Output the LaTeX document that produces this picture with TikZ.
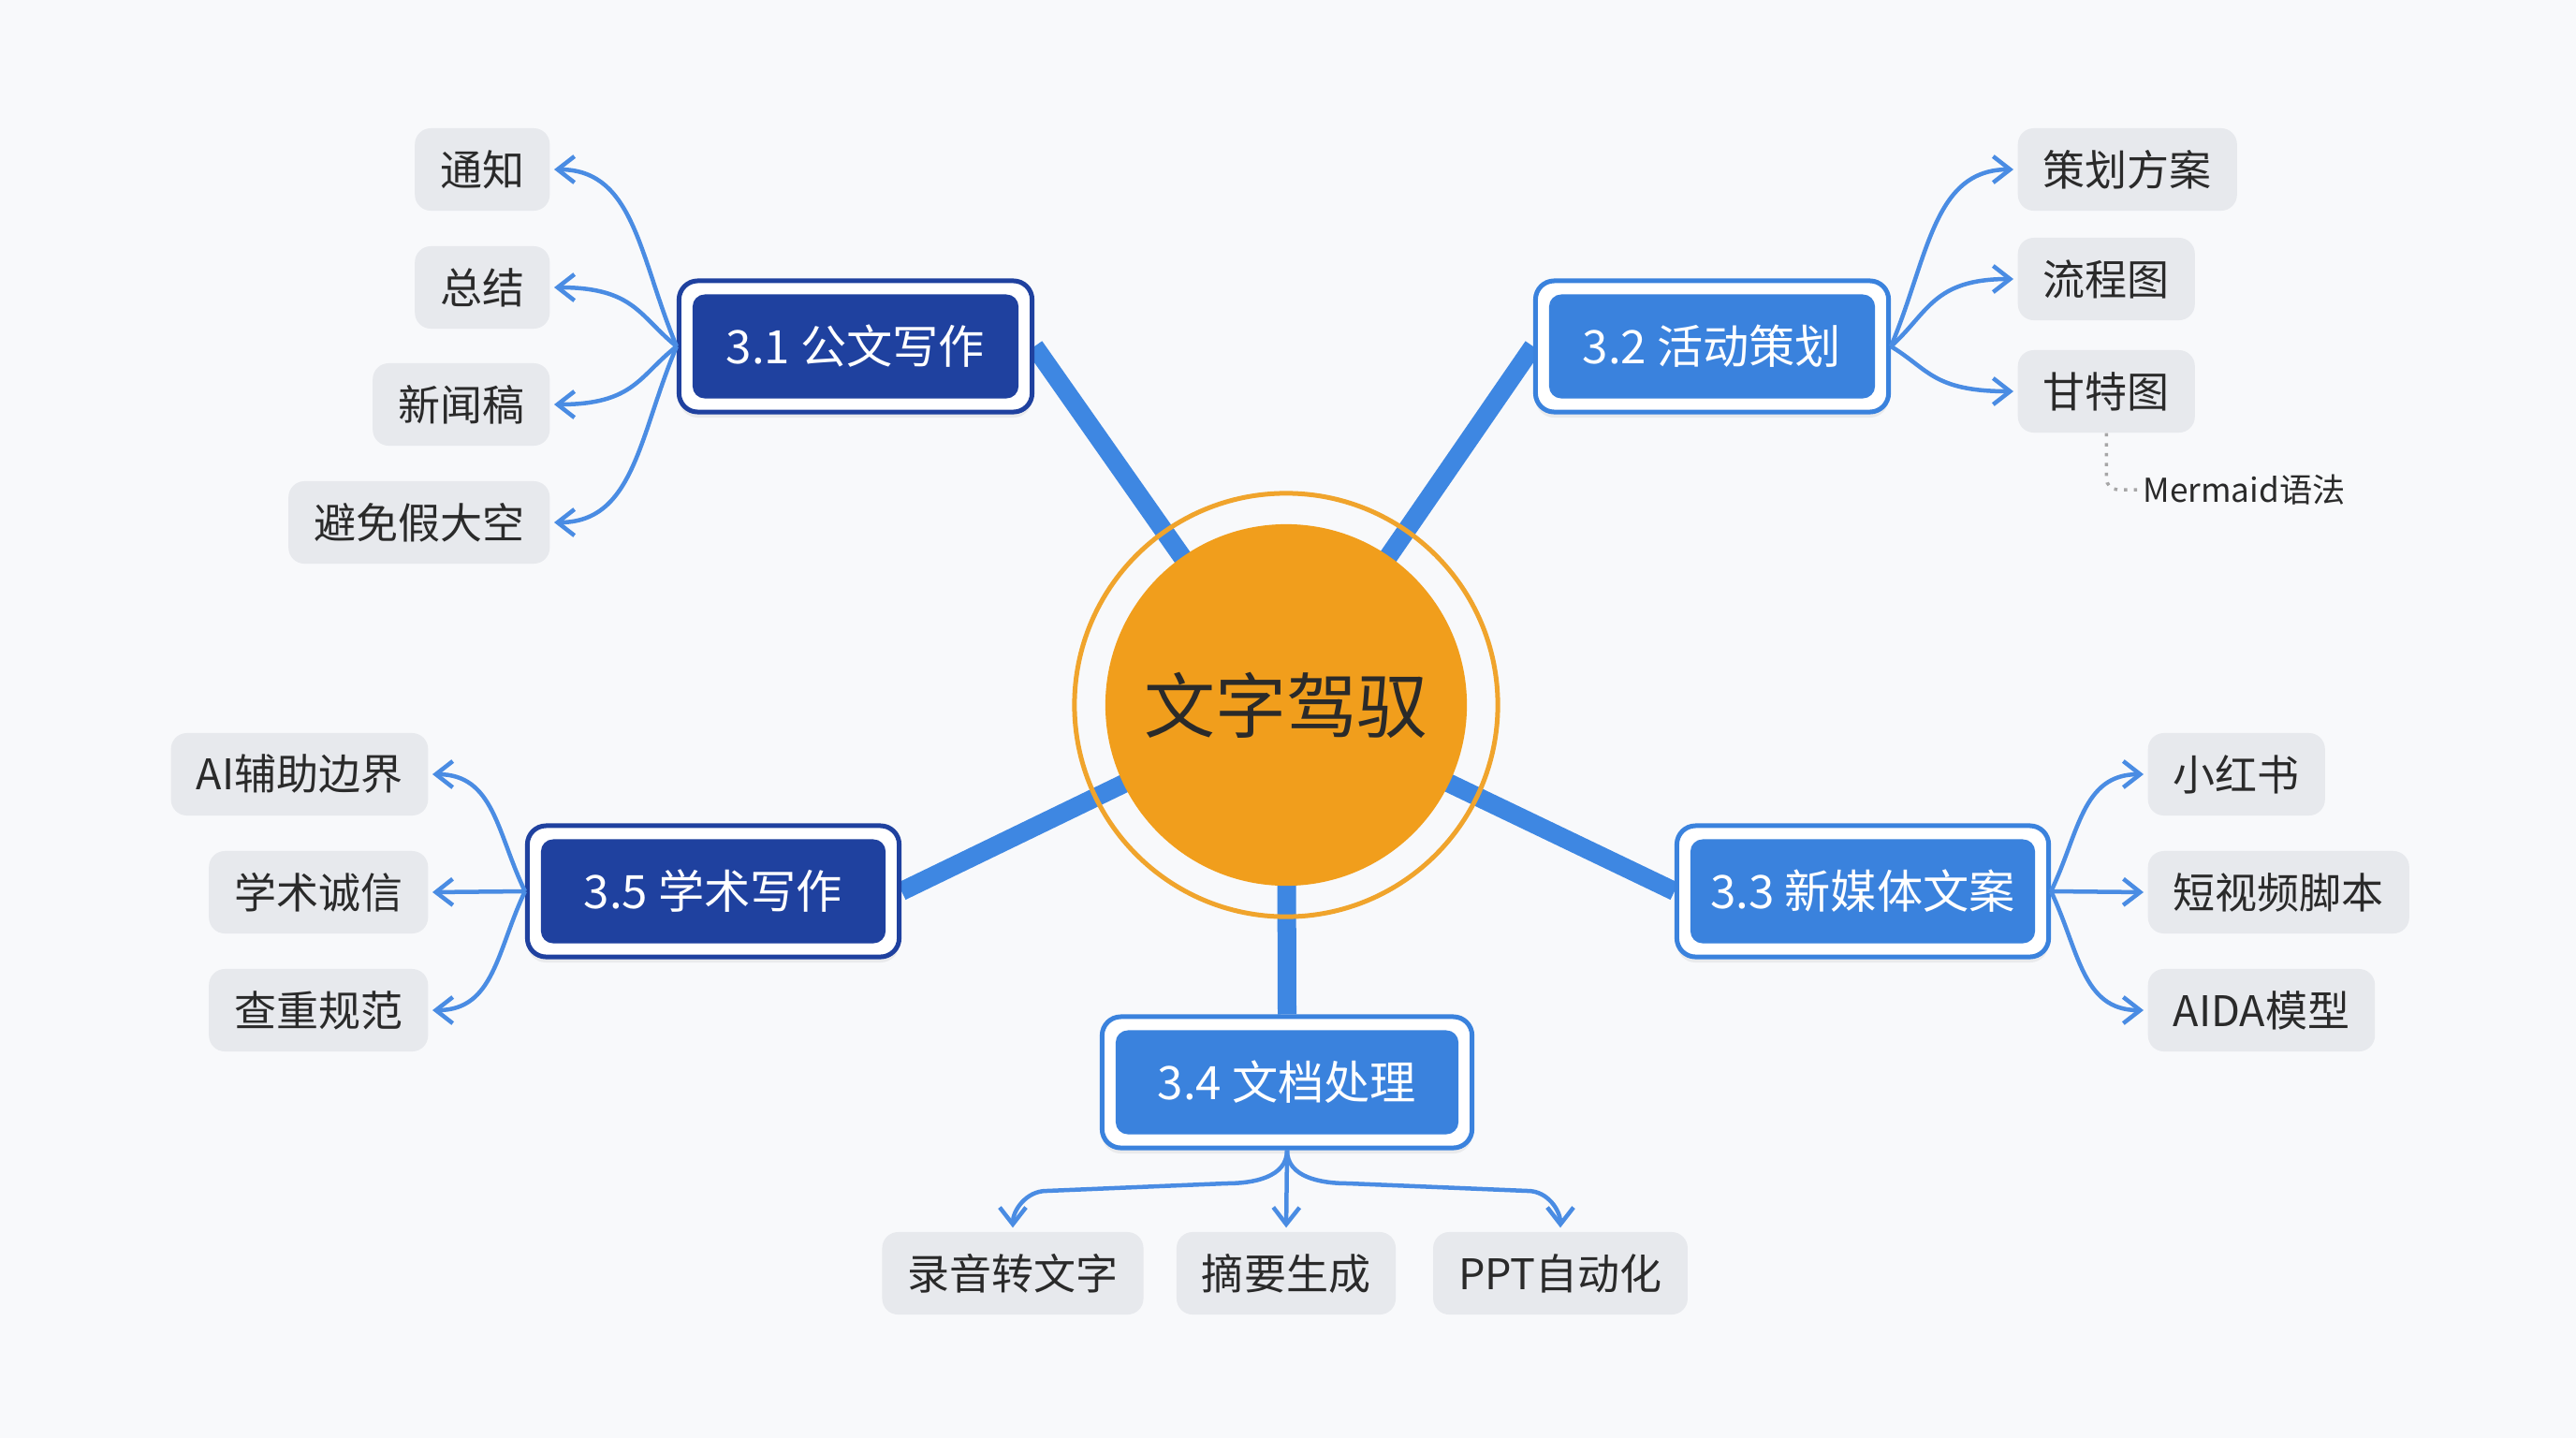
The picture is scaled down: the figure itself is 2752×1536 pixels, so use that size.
\documentclass[tikz,border=0pt]{standalone}
\usepackage{fontspec}
\setmainfont{Noto Sans CJK SC}
\usetikzlibrary{arrows.meta,calc,shadows}
\definecolor{bgc}{HTML}{F8F9FB}
\definecolor{navy}{HTML}{1F419F}
\definecolor{lblue}{HTML}{3A82DD}
\definecolor{linkc}{HTML}{3E87E2}
\definecolor{arrc}{HTML}{4A8CE3}
\definecolor{leaff}{HTML}{E7E9ED}
\definecolor{orng}{HTML}{F19E1C}
\definecolor{ringc}{HTML}{F0A42C}
\definecolor{txt}{HTML}{2A2A2A}
\pgfdeclarelayer{bg}
\pgfsetlayers{bg,main}
\tikzset{
  leaf/.style={fill=leaff, rounded corners=0.17cm, minimum height=0.88cm, inner xsep=0.27cm,
    font=\fontsize{12.8}{14}\selectfont, text=txt},
  outerbox/.style={draw=#1, line width=0.05cm, fill=white, rounded corners=0.2cm,
    minimum height=1.40cm, drop shadow={opacity=0.12, shadow xshift=0cm, shadow yshift=-0.06cm}},
  innerbox/.style={fill=#1, rounded corners=0.13cm, minimum height=1.11cm, text=white,
    font=\fontsize{14}{16}\selectfont},
  arr/.style={draw=arrc, line width=0.045cm, -{Straight Barb[length=0.18cm,width=0.28cm]}, shorten >=0.04cm},
  link/.style={draw=linkc, line width=0.2cm},
}
\begin{document}
\begin{tikzpicture}[x=0.01cm,y=-0.01cm]
\begin{pgfonlayer}{bg}
\fill[bgc] (0,0) rectangle (2752,1536);
\end{pgfonlayer}
\useasboundingbox (0,0) rectangle (2752,1536);

% centre
\node[circle, fill=orng, minimum size=3.86cm, text=txt, font=\fontsize{21.6}{24}\selectfont] (c) at (1374,753) {文字驾驭};
\draw[ringc, line width=0.05cm] (c.center) circle[radius=2.26cm];

% main boxes
\node[outerbox=navy, minimum width=3.77cm] (b31) at (914,370) {};
\node[innerbox=navy, minimum width=3.48cm] (t31) at (b31) {3.1 公文写作};
\node[outerbox=lblue, minimum width=3.77cm] (b32) at (1829,370) {};
\node[innerbox=lblue, minimum width=3.48cm] (t32) at (b32) {3.2 活动策划};
\node[outerbox=lblue, minimum width=3.97cm] (b33) at (1990,952) {};
\node[innerbox=lblue, minimum width=3.68cm] (t33) at (b33) {3.3 新媒体文案};
\node[outerbox=lblue, minimum width=3.95cm] (b34) at (1375,1156) {};
\node[innerbox=lblue, minimum width=3.66cm] (t34) at (b34) {3.4 文档处理};
\node[outerbox=navy, minimum width=3.97cm] (b35) at (762,952) {};
\node[innerbox=navy, minimum width=3.68cm] (t35) at (b35) {3.5 学术写作};

\begin{pgfonlayer}{bg}
\draw[link] (c.center) -- (b31.east);
\draw[link] (c.center) -- (b32.west);
\draw[link] (c.center) -- (b33.west);
\draw[link] (c.center) -- (b34.north);
\draw[link] (c.center) -- (b35.east);
\end{pgfonlayer}

% leaves 3.1
\node[leaf, anchor=east] (a1) at (588,181) {通知};
\node[leaf, anchor=east] (a2) at (588,307) {总结};
\node[leaf, anchor=east] (a3) at (588,432) {新闻稿};
\node[leaf, anchor=east] (a4) at (588,558) {避免假大空};
\draw[arr] (b31.west) .. controls +(-40,-95) and +(90,0) .. (a1.east);
\draw[arr] (b31.west) .. controls +(-40,-32) and +(90,0) .. (a2.east);
\draw[arr] (b31.west) .. controls +(-40,31) and +(90,0) .. (a3.east);
\draw[arr] (b31.west) .. controls +(-40,94) and +(90,0) .. (a4.east);

% leaves 3.2
\node[leaf, anchor=west] (p1) at (2155,181) {策划方案};
\node[leaf, anchor=west] (p2) at (2155,298) {流程图};
\node[leaf, anchor=west] (p3) at (2155,418) {甘特图};
\draw[arr] (b32.east) .. controls +(40,-95) and +(-90,0) .. (p1.west);
\draw[arr] (b32.east) .. controls +(40,-36) and +(-90,0) .. (p2.west);
\draw[arr] (b32.east) .. controls +(40,24) and +(-90,0) .. (p3.west);
\node[anchor=west, font=\fontsize{10}{12}\selectfont, text=txt, inner xsep=0.02cm] (mm) at (2287,523) {Mermaid语法};
\draw[gray!70, dotted, line width=0.035cm, rounded corners=0.12cm] (p3.south) |- (mm.west);

% leaves 3.3
\node[leaf, anchor=west] (m1) at (2294,827) {小红书};
\node[leaf, anchor=west] (m2) at (2294,953) {短视频脚本};
\node[leaf, anchor=west] (m3) at (2294,1079) {AIDA模型};
\draw[arr] (b33.east) .. controls +(30,-62) and +(-70,0) .. (m1.west);
\draw[arr] (b33.east) -- (m2.west);
\draw[arr] (b33.east) .. controls +(30,63) and +(-70,0) .. (m3.west);

% leaves 3.5
\node[leaf, anchor=east] (s1) at (458,827) {AI辅助边界};
\node[leaf, anchor=east] (s2) at (458,953) {学术诚信};
\node[leaf, anchor=east] (s3) at (458,1079) {查重规范};
\draw[arr] (b35.west) .. controls +(-30,-62) and +(70,0) .. (s1.east);
\draw[arr] (b35.west) -- (s2.east);
\draw[arr] (b35.west) .. controls +(-30,63) and +(70,0) .. (s3.east);

% leaves 3.4
\node[leaf] (d1) at (1082,1360) {录音转文字};
\node[leaf] (d2) at (1374,1360) {摘要生成};
\node[leaf] (d3) at (1667,1360) {PPT自动化};
\coordinate (k1) at (1310,1264);
\coordinate (k2) at (1118,1272);
\coordinate (k3) at (1440,1264);
\coordinate (k4) at (1632,1272);
\draw[arr] (b34.south) to[out=-90,in=0] (k1) -- (k2) to[out=180,in=90] (d1.north);
\draw[arr] (b34.south) -- (d2.north);
\draw[arr] (b34.south) to[out=-90,in=180] (k3) -- (k4) to[out=0,in=90] (d3.north);
\end{tikzpicture}
\end{document}
